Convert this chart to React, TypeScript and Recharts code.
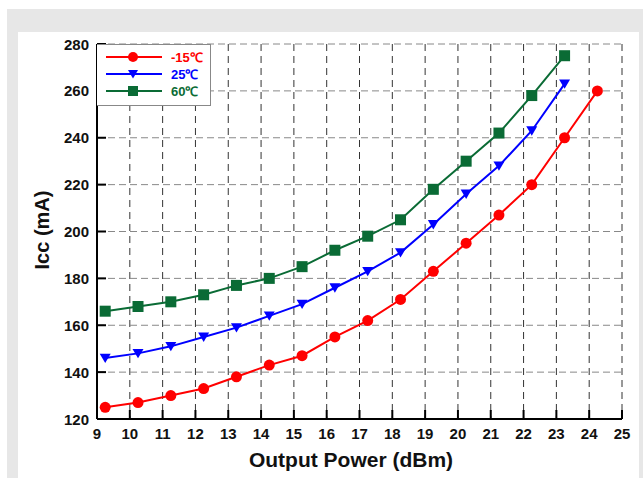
import { CartesianGrid, Line, LineChart, XAxis, YAxis } from "recharts";

// output power (dBm) where each point was measured
const power = [9.25, 10.25, 11.25, 12.25, 13.25, 14.25, 15.25, 16.25, 17.25, 18.25, 19.25, 20.25, 21.25, 22.25, 23.25, 24.25];
// Icc (mA) per temperature
const iccMinus15 = [125, 127, 130, 133, 138, 143, 147, 155, 162, 171, 183, 195, 207, 220, 240, 260];
const icc25 = [146, 148, 151, 155, 159, 164, 169, 176, 183, 191, 203, 216, 228, 243, 263];
const icc60 = [166, 168, 170, 173, 177, 180, 185, 192, 198, 205, 218, 230, 242, 258, 275];

const xTicks = [9, 10, 11, 12, 13, 14, 15, 16, 17, 18, 19, 20, 21, 22, 23, 24, 25];
const yTicks = [120, 140, 160, 180, 200, 220, 240, 260, 280];

const RED = "#ff0000";
const BLUE = "#0000ff";
const GREEN = "#0a6b35";
const FONT = "'Liberation Sans', Arial, sans-serif";

const rows = power.map((x, i) => ({
  x,
  m15: iccMinus15[i],
  t25: icc25[i],
  t60: icc60[i]
}));

type Marker = "circle" | "triangle" | "square";

function MarkerShape({ kind, cx, cy, color, size = 5.5 }: { kind: Marker; cx: number; cy: number; color: string; size?: number }) {
  if (kind === "circle") return <circle cx={cx} cy={cy} r={size} fill={color} />;
  if (kind === "square") return <rect x={cx - size} y={cy - size} width={size * 2} height={size * 2} fill={color} />;
  return <path d={`M${cx - size},${cy - size * 0.8} L${cx + size},${cy - size * 0.8} L${cx},${cy + size * 0.9} Z`} fill={color} />;
}

function makeDot(kind: Marker, color: string) {
  return (props: any) => {
    const { cx, cy, index, value } = props;
    if (cx == null || cy == null || value == null) return <g key={`${kind}-${index}`} />;
    return <MarkerShape key={`${kind}-${index}`} kind={kind} cx={cx} cy={cy} color={color} />;
  };
}

function XTick({ x, y, payload }: any) {
  return (
    <g>
      <line x1={x} y1={y} x2={x} y2={y - 9} stroke="#000" strokeWidth={2} />
      <text x={x} y={y + 20} textAnchor="middle" fontSize={15} fontWeight="bold" fontFamily={FONT} fill="#111">
        {payload.value}
      </text>
    </g>
  );
}

function YTick({ x, y, payload }: any) {
  return (
    <g>
      <line x1={x} y1={y} x2={x + 9} y2={y} stroke="#000" strokeWidth={2} />
      <text x={x - 8} y={y + 5.5} textAnchor="end" fontSize={15} fontWeight="bold" fontFamily={FONT} fill="#111">
        {payload.value}
      </text>
    </g>
  );
}

const legendItems: Array<{ label: string; color: string; kind: Marker }> = [
  { label: "-15℃", color: RED, kind: "circle" },
  { label: "25℃", color: BLUE, kind: "triangle" },
  { label: "60℃", color: GREEN, kind: "square" }
];

export default function App() {
  return (
    <div style={{ position: "absolute", left: 0, top: 0, width: 643, height: 478, background: "#fff", overflow: "hidden" }}>
      <div style={{ position: "absolute", left: 7, top: 9, width: 636, height: 469, background: "#e7e7e7" }} />
      <div style={{ position: "absolute", left: 18, top: 32, width: 621, height: 446, background: "#fff" }} />
      <div style={{ position: "absolute", left: 0, top: 0 }}>
        <LineChart width={643} height={478} data={rows} margin={{ top: 44, right: 21, bottom: 0, left: 0 }}>
          <CartesianGrid horizontal={false} stroke="#333" strokeDasharray="7 5" />
          <CartesianGrid vertical={false} stroke="#888" strokeDasharray="7 4" />
          <XAxis
            dataKey="x"
            type="number"
            domain={[9, 25]}
            ticks={xTicks}
            interval={0}
            height={59}
            axisLine={{ stroke: "#000", strokeWidth: 2 }}
            tickLine={false}
            tickSize={0}
            tickMargin={0}
            tick={<XTick />}
          />
          <YAxis
            type="number"
            domain={[120, 280]}
            ticks={yTicks}
            interval={0}
            width={97}
            axisLine={{ stroke: "#000", strokeWidth: 2 }}
            tickLine={false}
            tickSize={0}
            tickMargin={0}
            tick={<YTick />}
          />
          <Line dataKey="m15" type="linear" stroke={RED} strokeWidth={2} dot={makeDot("circle", RED)} activeDot={false} isAnimationActive={false} />
          <Line dataKey="t25" type="linear" stroke={BLUE} strokeWidth={2} dot={makeDot("triangle", BLUE)} activeDot={false} isAnimationActive={false} />
          <Line dataKey="t60" type="linear" stroke={GREEN} strokeWidth={2} dot={makeDot("square", GREEN)} activeDot={false} isAnimationActive={false} />
        </LineChart>
      </div>

      {/* legend */}
      <div style={{ position: "absolute", left: 97, top: 44, width: 113, height: 60, border: "1px solid #888", borderLeft: "none", background: "#fff" }}>
        <svg width={113} height={60} style={{ display: "block" }}>
          {legendItems.map((item, i) => {
            const cy = 12 + i * 17;
            return (
              <g key={item.label}>
                <line x1={9} y1={cy} x2={65} y2={cy} stroke={item.color} strokeWidth={2} />
                <MarkerShape kind={item.kind} cx={36} cy={cy} color={item.color} size={5} />
                <text x={74} y={cy + 5} fontSize={13} fontWeight="bold" fontFamily={FONT} fill={item.color}>
                  {item.label}
                </text>
              </g>
            );
          })}
        </svg>
      </div>

      <div
        style={{
          position: "absolute",
          left: 42,
          top: 230,
          transform: "translate(-50%, -50%) rotate(-90deg)",
          whiteSpace: "nowrap",
          fontFamily: FONT,
          fontWeight: "bold",
          fontSize: 20,
          color: "#111"
        }}
      >
        Icc (mA)
      </div>
      <div
        style={{
          position: "absolute",
          left: 351,
          top: 460,
          transform: "translate(-50%, -50%)",
          whiteSpace: "nowrap",
          fontFamily: FONT,
          fontWeight: "bold",
          fontSize: 21,
          color: "#111"
        }}
      >
        Output Power (dBm)
      </div>
    </div>
  );
}
